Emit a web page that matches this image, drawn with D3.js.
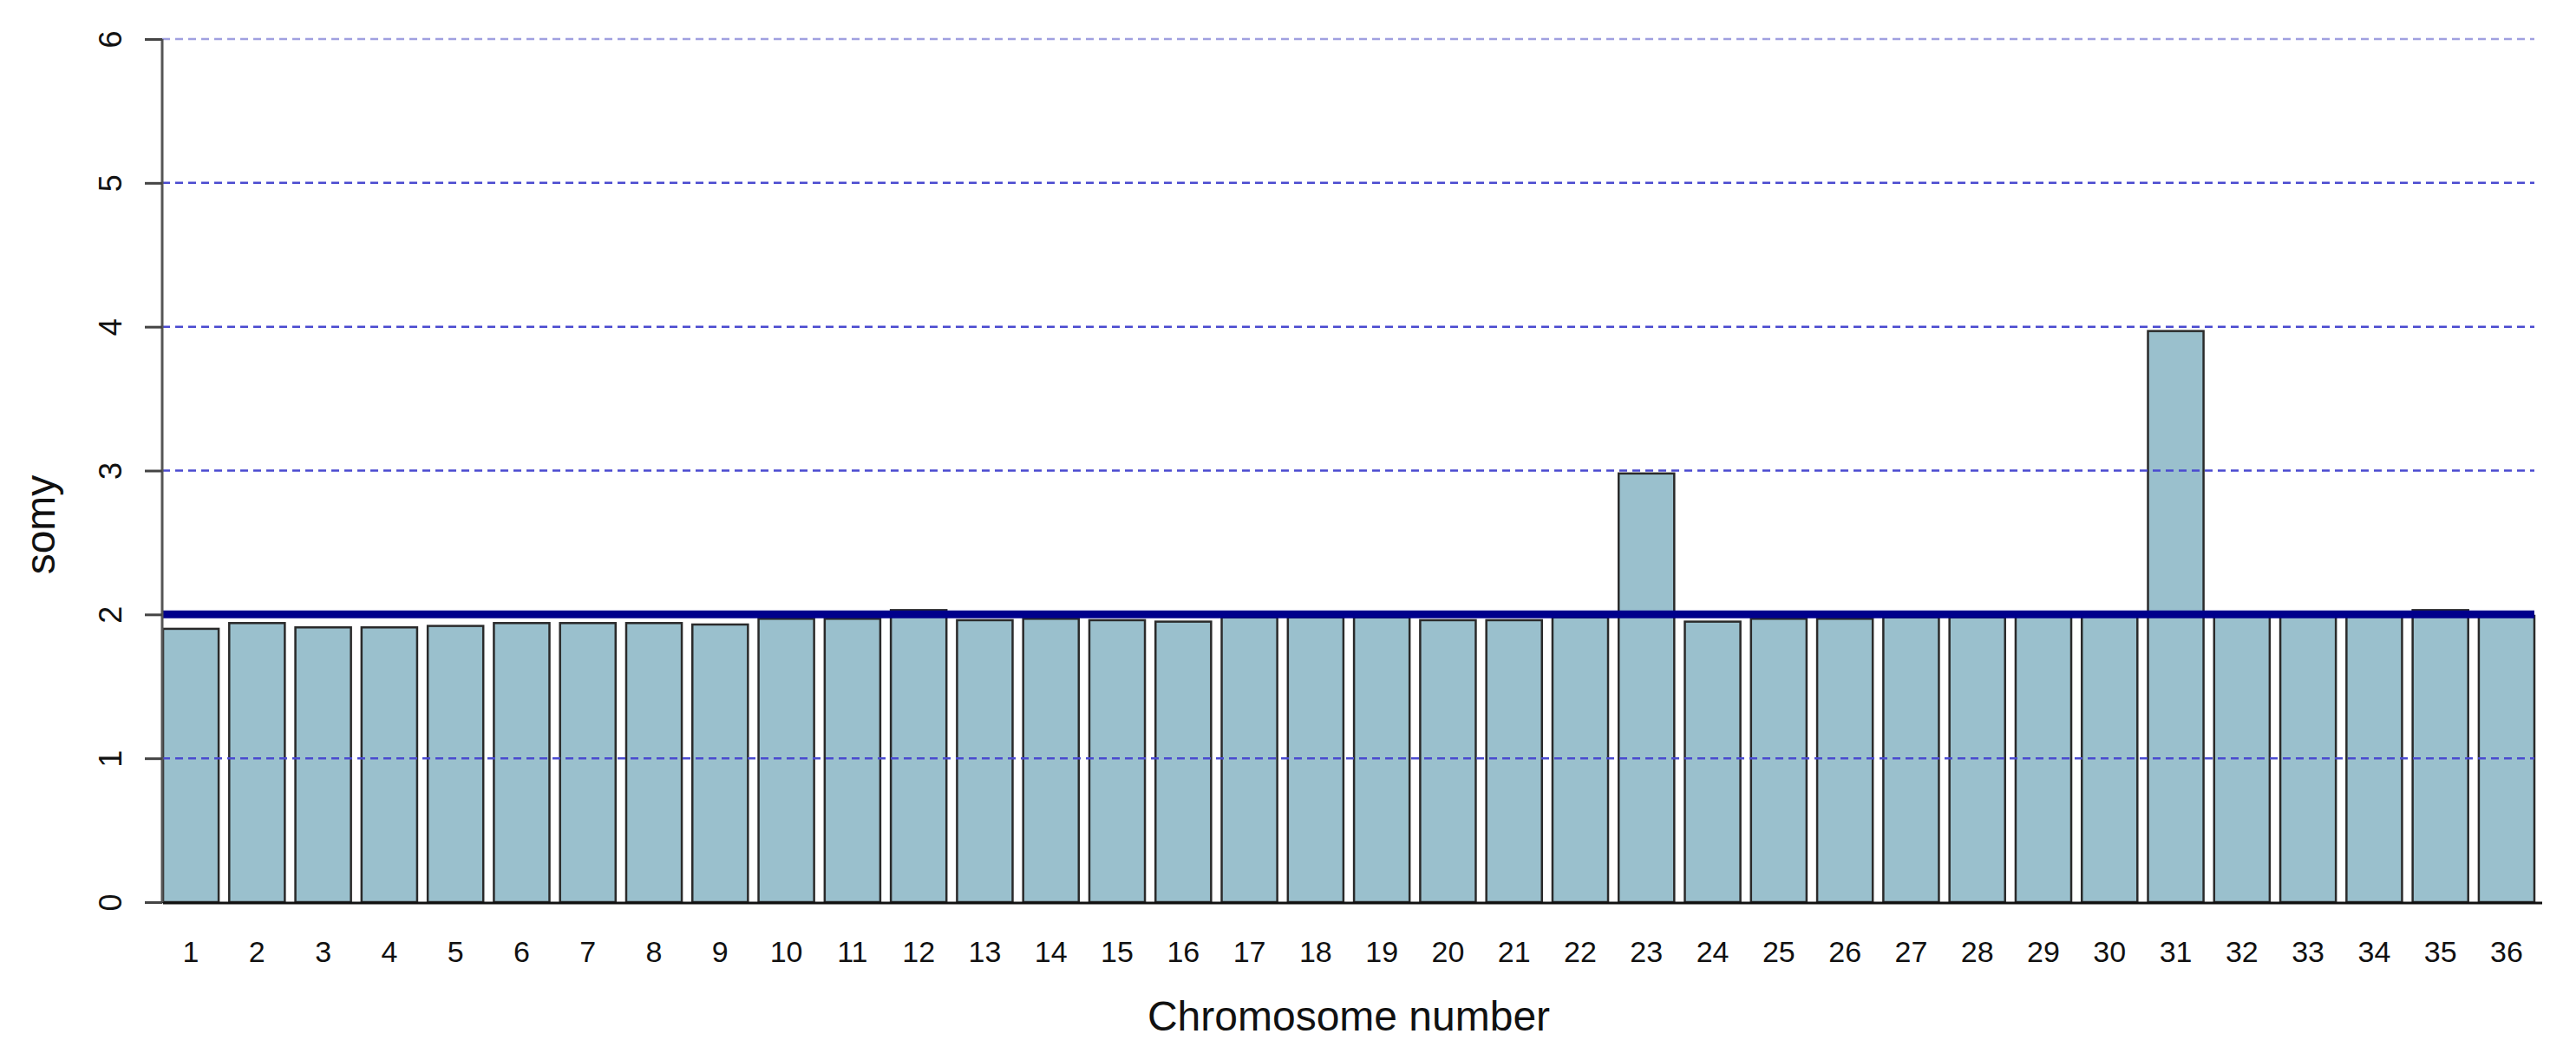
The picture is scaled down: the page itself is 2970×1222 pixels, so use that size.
<!DOCTYPE html>
<html>
<head>
<meta charset="utf-8">
<script src="https://cdn.jsdelivr.net/npm/d3@7"></script>
<style>
  body { margin: 0; background: #fff; }
  text { font-family: "Liberation Sans", Arial, Helvetica, sans-serif; fill: #111; }
</style>
</head>
<body>
<svg width="2970" height="1222"></svg>
<script>
const chromosomes = d3.range(1, 37).map(String);
const somy = [
  1.90, 1.94, 1.91, 1.91, 1.92, 1.94, 1.94, 1.94, 1.93, 1.97,
  1.97, 2.03, 1.96, 1.97, 1.96, 1.95, 1.98, 1.98, 1.98, 1.96,
  1.96, 1.98, 2.98, 1.95, 1.97, 1.97, 1.98, 1.98, 1.99, 1.99,
  3.97, 1.99, 1.99, 1.99, 2.03, 1.99
];
const yTicks = [0, 1, 2, 3, 4, 5, 6];
const gridLevels = [1, 3, 4, 5, 6];
const baseline = 2;

const svg = d3.select('svg'),
  width = +svg.attr('width'),
  height = +svg.attr('height');

const margin = {top: 45, right: 48, bottom: 182, left: 188};

const x = d3.scaleBand()
  .domain(chromosomes)
  .range([margin.left, width - margin.right])
  .paddingInner(0.16)
  .paddingOuter(0);

const y = d3.scaleLinear()
  .domain([0, 6])
  .range([height - margin.bottom, margin.top]);

const data = chromosomes.map((c, i) => ({chr: c, value: somy[i]}));

svg.append('rect')
  .attr('width', width)
  .attr('height', height)
  .attr('fill', '#fff');

svg.append('g')
  .selectAll('rect')
  .data(data)
  .enter()
  .append('rect')
  .attr('x', d => x(d.chr))
  .attr('y', d => y(d.value))
  .attr('width', x.bandwidth())
  .attr('height', d => y(0) - y(d.value))
  .attr('fill', '#9AC0CD')
  .attr('stroke', '#2a2a2a')
  .attr('stroke-width', 2.5);

// dashed reference lines, drawn over the bars
svg.append('g')
  .selectAll('line')
  .data(gridLevels)
  .enter()
  .append('line')
  .attr('x1', margin.left - 1)
  .attr('x2', width - margin.right)
  .attr('y1', d => y(d))
  .attr('y2', d => y(d))
  .attr('stroke', d => d === 6 ? '#a0a0e0' : '#4a4ad0')
  .attr('stroke-width', 2.5)
  .attr('stroke-dasharray', '9,6');

// diploid line
svg.append('line')
  .attr('x1', margin.left - 1)
  .attr('x2', width - margin.right)
  .attr('y1', y(baseline))
  .attr('y2', y(baseline))
  .attr('stroke', '#00008B')
  .attr('stroke-width', 9);

// bottom line
svg.append('line')
  .attr('x1', margin.left)
  .attr('x2', width - margin.right + 9)
  .attr('y1', y(0) + 1)
  .attr('y2', y(0) + 1)
  .attr('stroke', '#111')
  .attr('stroke-width', 3);

// y axis
const yAxis = svg.append('g')
  .attr('transform', `translate(${margin.left - 1},0)`)
  .call(d3.axisLeft(y).tickValues(yTicks).tickSize(20).tickPadding(0).tickFormat(d3.format('d')));

yAxis.select('.domain')
  .attr('d', `M0,${y(6)}V${y(0)}`)
  .attr('stroke', '#555')
  .attr('stroke-width', 3);

yAxis.selectAll('.tick line')
  .attr('stroke', '#444')
  .attr('stroke-width', 3);

yAxis.selectAll('.tick text')
  .attr('x', null)
  .attr('transform', 'translate(-60,0) rotate(-90)')
  .attr('text-anchor', 'middle')
  .attr('dy', '0.36em')
  .style('font-size', '36px')
  .style('font-family', '"Liberation Sans", Arial, sans-serif')
  .attr('fill', '#111');

// x labels
const xAxis = svg.append('g')
  .attr('transform', `translate(0,${y(0)})`)
  .call(d3.axisBottom(x).tickSize(0).tickPadding(45));

xAxis.select('.domain').remove();
xAxis.selectAll('.tick text')
  .style('font-size', '34px')
  .style('font-family', '"Liberation Sans", Arial, sans-serif')
  .attr('fill', '#111');

svg.append('text')
  .attr('x', (margin.left + width - margin.right) / 2)
  .attr('y', 1188)
  .attr('text-anchor', 'middle')
  .style('font-size', '48px')
  .text('Chromosome number');

svg.append('text')
  .attr('transform', 'translate(63,605) rotate(-90)')
  .attr('text-anchor', 'middle')
  .style('font-size', '48px')
  .text('somy');
</script>
</body>
</html>
